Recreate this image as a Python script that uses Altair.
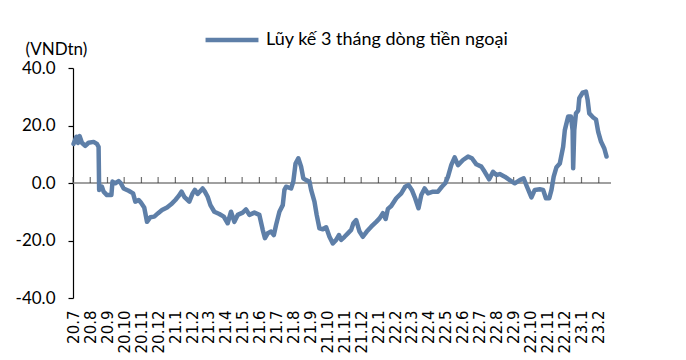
import altair as alt
import pandas as pd

series_name = "Lũy kế 3 tháng dòng tiền ngoại"
unit_label = "(VNDtn)"

dates = ["2020-07-02","2020-07-07","2020-07-10","2020-07-13","2020-07-17","2020-07-23","2020-07-29",
"2020-08-07","2020-08-13","2020-08-16","2020-08-17","2020-08-22","2020-08-25","2020-08-31",
"2020-09-08","2020-09-10","2020-09-15","2020-09-21","2020-09-25","2020-09-30",
"2020-10-09","2020-10-17","2020-10-21","2020-10-27","2020-10-31",
"2020-11-06","2020-11-11","2020-11-17","2020-11-24",
"2020-12-01","2020-12-08","2020-12-17","2020-12-26",
"2021-01-01","2021-01-07","2021-01-12","2021-01-17","2021-01-26",
"2021-02-01","2021-02-05","2021-02-10","2021-02-19","2021-02-23","2021-02-28",
"2021-03-05","2021-03-12","2021-03-21","2021-03-29",
"2021-04-05","2021-04-11","2021-04-17","2021-04-23",
"2021-05-02","2021-05-08","2021-05-14","2021-05-23",
"2021-06-01","2021-06-07","2021-06-11","2021-06-16","2021-06-22","2021-06-27",
"2021-07-01","2021-07-07","2021-07-13","2021-07-16","2021-07-19","2021-07-28",
"2021-08-01","2021-08-05","2021-08-10","2021-08-15","2021-08-19","2021-08-24","2021-08-30",
"2021-09-02","2021-09-08","2021-09-12","2021-09-17","2021-09-23","2021-09-29",
"2021-10-05","2021-10-11","2021-10-17","2021-10-22","2021-10-26",
"2021-11-01","2021-11-07","2021-11-13","2021-11-17","2021-11-22","2021-11-28",
"2021-12-04","2021-12-11","2021-12-19","2021-12-28",
"2022-01-03","2022-01-09","2022-01-14","2022-01-18","2022-01-24",
"2022-02-02","2022-02-11","2022-02-18","2022-02-24",
"2022-03-02","2022-03-08","2022-03-14","2022-03-19","2022-03-25","2022-03-31",
"2022-04-09","2022-04-18","2022-04-25",
"2022-05-01","2022-05-06","2022-05-12","2022-05-18","2022-05-24",
"2022-06-02","2022-06-11","2022-06-18","2022-06-26",
"2022-07-05","2022-07-11","2022-07-19","2022-07-26",
"2022-08-01","2022-08-07","2022-08-16","2022-08-25",
"2022-09-03","2022-09-12","2022-09-19","2022-09-25",
"2022-10-03","2022-10-09","2022-10-18","2022-10-24","2022-10-29",
"2022-11-04","2022-11-08","2022-11-12","2022-11-17","2022-11-23","2022-11-29",
"2022-12-02","2022-12-08","2022-12-13","2022-12-16","2022-12-17","2022-12-19","2022-12-22","2022-12-26","2022-12-28",
"2023-01-03","2023-01-09","2023-01-12","2023-01-15","2023-01-22","2023-01-27","2023-01-31",
"2023-02-05","2023-02-11","2023-02-15"]

values = [13.6,16.1,13.9,16.3,14.0,12.9,14.0,14.3,13.6,12.6,
-2.4,-1.3,-3.0,-4.2,-4.2,0.5,-0.1,0.7,-0.1,-1.9,
-2.7,-3.6,-6.5,-5.9,-6.8,-8.5,-13.5,-11.9,-11.7,-10.5,
-9.4,-8.5,-7.1,-5.9,-4.5,-3.0,-4.8,-6.5,-3.6,-2.4,
-3.8,-1.9,-3.0,-4.8,-7.7,-10.0,-10.8,-11.7,-14.0,-10.0,
-13.5,-11.1,-10.3,-9.2,-11.1,-10.3,-11.1,-16.3,-19.2,-17.5,
-16.9,-18.1,-14.6,-10.0,-7.7,-2.4,-1.3,-1.9,0.5,6.8,
8.6,5.7,1.6,1.0,0.5,-2.4,-6.5,-11.1,-15.8,-16.1,
-15.4,-18.7,-21.0,-19.8,-18.1,-19.8,-18.7,-17.5,-16.3,-14.0,
-12.9,-16.9,-18.7,-16.9,-15.2,-13.5,-12.3,-10.5,-12.5,-9.0,
-8.0,-5.3,-3.6,-1.3,-0.7,-2.4,-5.3,-8.8,-4.2,-1.9,
-3.6,-3.0,-3.0,-1.3,-0.1,2.2,6.3,8.9,6.2,8.0,
9.2,8.6,6.5,5.7,3.9,1.3,3.9,2.8,3.1,2.2,
1.0,-0.1,1.0,1.6,-1.3,-5.0,-2.4,-2.2,-2.4,-5.3,
-5.3,-2.4,2.2,5.5,6.8,12.6,18.4,23.1,23.1,18.4,
5.1,18.4,24.2,25.2,29.5,31.4,31.8,28.9,24.2,22.8,
22.1,17.8,14.4,12.0,9.2]

tick_labels = ["20.7","20.8","20.9","20.10","20.11","20.12",
"21.1","21.2","21.3","21.4","21.5","21.6","21.7","21.8","21.9","21.10","21.11","21.12",
"22.1","22.2","22.3","22.4","22.5","22.6","22.7","22.8","22.9","22.10","22.11","22.12",
"23.1","23.2"]

y_ticks = [-40, -20, 0, 20, 40]

LINE_COLOR = "#5E7FA8"


def label_to_dt(lbl):
    yy, mm = lbl.split(".")
    return alt.DateTime(year=2000 + int(yy), month=int(mm), date=1, utc=True)


def label_to_str(lbl):
    yy, mm = lbl.split(".")
    return f"{2000 + int(yy)}-{int(mm):02d}-01"


df = pd.DataFrame({"date": dates, "value": values, "series": series_name})
ticks_df = pd.DataFrame({"date": [label_to_str(l) for l in tick_labels], "value": 0})
zero_df = pd.DataFrame({"value": [0]})

x_scale = alt.Scale(type="utc",
                    domain=[alt.DateTime(year=2020, month=7, date=1, utc=True),
                            alt.DateTime(year=2023, month=2, date=23, utc=True)])
y_scale = alt.Scale(domain=[-40, 40], nice=False, zero=False)

x_axis = alt.Axis(values=[label_to_dt(l) for l in tick_labels],
                  labelExpr="utcFormat(datum.value, '%y.%-m')",
                  labelAngle=270, labelFont="DejaVu Sans", labelFontSize=15,
                  labelColor="black", labelPadding=12, labelOverlap=False,
                  labelBound=False, labelFlush=False,
                  domain=False, ticks=False, grid=False, title=None)
y_axis = alt.Axis(values=y_ticks,
                  labelExpr="replace(format(datum.value, '.1f'), '\u2212', '-')",
                  labelFont="Lato", labelFontSize=17, labelColor="black",
                  labelPadding=13, tickSize=5, tickColor="black", tickWidth=1.2,
                  domainColor="black", domainWidth=1.2, grid=False,
                  title=unit_label, titleAngle=0, titleAlign="left",
                  titleBaseline="middle", titleX=-48, titleY=-19,
                  titleFont="Lato", titleFontSize=17, titleFontWeight="normal",
                  titleColor="black")

X = alt.X("date:T", scale=x_scale, axis=x_axis)
Y = alt.Y("value:Q", scale=y_scale, axis=y_axis)

line = alt.Chart(df).mark_line(strokeWidth=4.5, strokeJoin="round", strokeCap="round").encode(
    x=X,
    y=Y,
    color=alt.Color("series:N", scale=alt.Scale(range=[LINE_COLOR]),
                    legend=alt.Legend(orient="none", legendX=130, legendY=-57, title=None,
                                      symbolType="stroke", symbolStrokeWidth=4.5,
                                      symbolSize=2800, labelFont="Lato", labelFontSize=18,
                                      labelColor="black", labelOffset=5, labelLimit=0)),
)

zero_rule = alt.Chart(zero_df).mark_rule(color="#808080", strokeWidth=1.5).encode(y=Y)

month_ticks = alt.Chart(ticks_df).mark_tick(orient="vertical", size=6, thickness=1.2,
                                            color="#333333", yOffset=-3).encode(x=X, y=Y)

chart = alt.layer(zero_rule, month_ticks, line).properties(
    width=538, height=230,
    padding={"left": 73, "top": 68, "right": 75, "bottom": 62},
    autosize="none",
    background="white",
).configure_view(stroke=None)

chart.save("out.html", embed_options={"renderer": "svg", "actions": False})
